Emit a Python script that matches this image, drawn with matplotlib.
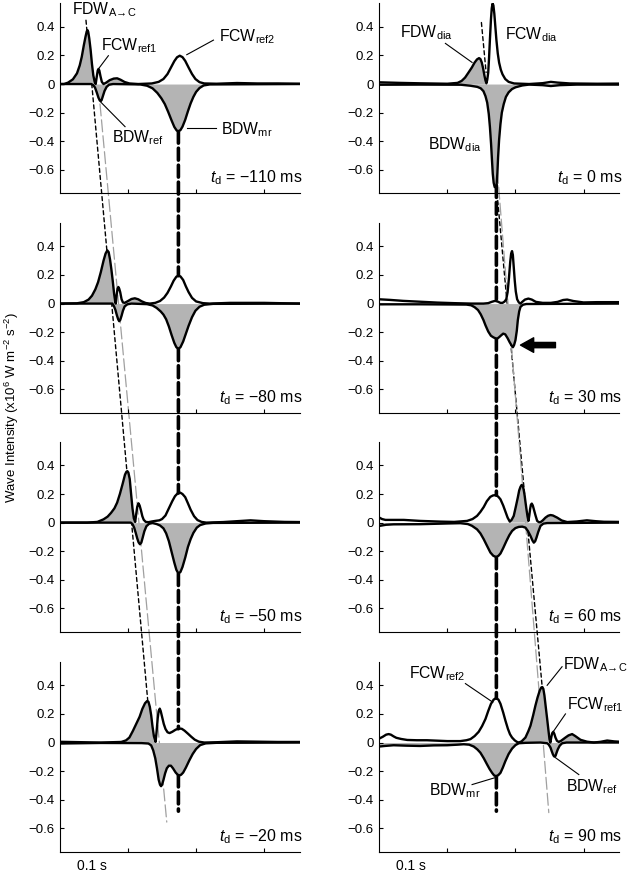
import numpy as np
import matplotlib.pyplot as plt
from matplotlib.patches import ConnectionPatch

plt.rcParams['font.family'] = ['Liberation Sans', 'DejaVu Sans']
plt.rcParams['mathtext.fontset'] = 'custom'
plt.rcParams['mathtext.rm'] = 'Liberation Sans'
plt.rcParams['mathtext.it'] = 'Liberation Sans:italic'
plt.rcParams['mathtext.bf'] = 'Liberation Sans:bold'

# delay of each panel (ms); left column first, then right column
delays = [-110, -80, -50, -20, 0, 30, 60, 90]

# wave intensity traces: (time in ms, x10^6 W m-2 s-2)
# fwd = forward waves (positive), bwd = backward waves (negative)
fwd_m110 = [(0, 0), (6, 0), (12, 0.01), (19, 0.033), (25, 0.075), (29, 0.13), (32, 0.19), (35, 0.27),
            (37.5, 0.33), (39.3, 0.368), (40.4, 0.377), (41.5, 0.365), (43, 0.32), (45, 0.24), (47, 0.14),
            (49, 0.06), (51, 0.015), (52.5, 0), (54, 0.05), (55.5, 0.095), (56.6, 0.105), (57.8, 0.095),
            (59.5, 0.055), (61.5, 0.015), (64, 0), (68, 0.01), (73, 0.027), (79, 0.038), (84, 0.04),
            (89, 0.03), (95, 0.014), (102, 0.004), (115, 0), (135, 0.004), (145, 0.015), (152, 0.035),
            (158, 0.07), (163, 0.115), (168, 0.16), (172, 0.187), (176, 0.198), (180, 0.188), (184, 0.162),
            (189, 0.115), (194, 0.07), (199, 0.035), (205, 0.013), (212, 0.004), (230, 0.002), (260, 0.007),
            (290, 0.004), (320, 0.004), (352, 0.002)]
bwd_m110 = [(0, 0), (46, 0), (49, -0.008), (51.5, -0.025), (54, -0.058), (56.5, -0.095), (58.5, -0.115),
            (59.8, -0.12), (61.2, -0.112), (63, -0.085), (65.5, -0.048), (68.5, -0.02), (72, -0.005), (78, 0),
            (118, -0.003), (128, -0.012), (136, -0.03), (143, -0.062), (149, -0.1), (154, -0.14), (159, -0.195),
            (164, -0.255), (168, -0.3), (171.5, -0.325), (174, -0.33), (177, -0.322), (180, -0.298),
            (184, -0.25), (188, -0.19), (192, -0.135), (196, -0.09), (200, -0.055), (205, -0.028),
            (211, -0.01), (220, -0.003), (352, 0)]

fwd_m80 = [(0, 0), (25, 0.002), (35, 0.01), (42, 0.028), (47, 0.055), (52, 0.1), (56, 0.15), (60, 0.22),
           (64, 0.3), (67, 0.35), (69.5, 0.372), (71.5, 0.36), (73.5, 0.31), (75.5, 0.24), (77.5, 0.16),
           (79.5, 0.07), (81, 0.02), (82, 0), (83.3, 0.06), (84.6, 0.105), (85.8, 0.116), (87, 0.105),
           (88.5, 0.08), (90.5, 0.03), (92.5, 0.008), (95, 0.005), (100, 0.018), (105, 0.032), (110, 0.037),
           (115, 0.03), (120, 0.016), (126, 0.004), (132, 0), (140, 0.005), (147, 0.018), (153, 0.042),
           (158, 0.075), (163, 0.12), (167, 0.16), (171, 0.188), (174, 0.195), (177, 0.19), (181, 0.165),
           (185, 0.12), (189, 0.08), (194, 0.04), (200, 0.015), (210, 0.003), (220, 0), (250, 0.005),
           (300, 0.005), (352, 0)]
bwd_m80 = [(0, 0), (77, 0), (79.5, -0.02), (81.5, -0.045), (83.5, -0.08), (85.5, -0.11), (87, -0.123),
           (88.5, -0.115), (90.5, -0.085), (92.5, -0.05), (95, -0.02), (99, -0.005), (105, 0), (128, -0.004),
           (136, -0.013), (142, -0.03), (148, -0.055), (152, -0.077), (156, -0.11), (160, -0.16),
           (164, -0.22), (168, -0.275), (171, -0.305), (174, -0.316), (177, -0.305), (181, -0.265),
           (185, -0.21), (189, -0.155), (194, -0.095), (199, -0.05), (205, -0.022), (212, -0.008),
           (225, -0.002), (352, 0)]

fwd_m50 = [(0, 0), (40, 0), (55, 0.005), (64, 0.023), (70, 0.042), (75, 0.068), (80, 0.1), (84, 0.14),
           (88, 0.2), (92, 0.27), (95.5, 0.335), (97.5, 0.355), (99, 0.36), (100.5, 0.35), (102.5, 0.305),
           (104.5, 0.2), (106.5, 0.1), (108.5, 0.03), (110.5, 0.005), (112, 0.06), (113.5, 0.11),
           (115.3, 0.135), (117, 0.12), (119, 0.085), (121, 0.045), (123, 0.02), (126, 0.005), (130, 0.003),
           (135, 0.008), (140, 0.012), (146, 0.016), (150, 0.025), (155, 0.05), (160, 0.1), (165, 0.15),
           (169, 0.185), (173, 0.205), (176.5, 0.21), (180, 0.2), (184, 0.178), (188, 0.135), (192, 0.09),
           (197, 0.045), (202, 0.018), (208, 0.005), (215, 0), (240, 0.004), (260, 0.01), (280, 0.016),
           (300, 0.01), (330, 0.005), (352, 0.004)]
bwd_m50 = [(0, 0), (104, 0), (106.5, -0.01), (109, -0.035), (111.5, -0.075), (113.5, -0.11), (115.5, -0.138),
           (117.5, -0.151), (119.5, -0.14), (121.5, -0.105), (124, -0.06), (127, -0.025), (131, -0.008),
           (136, -0.003), (142, -0.01), (147, -0.02), (152, -0.04), (156, -0.075), (160, -0.13),
           (164, -0.205), (168, -0.28), (171, -0.33), (174, -0.356), (177, -0.345), (180, -0.31),
           (184, -0.245), (188, -0.17), (192, -0.115), (196, -0.072), (201, -0.035), (206, -0.017),
           (214, -0.006), (225, -0.002), (352, 0)]

fwd_m20 = [(0, 0.005), (60, 0), (90, 0.004), (97, 0.015), (102, 0.035), (107, 0.08), (112, 0.13), (117, 0.18),
           (121, 0.235), (125, 0.275), (128, 0.29), (130, 0.285), (132, 0.25), (134, 0.19), (136, 0.11),
           (138, 0.045), (140.5, 0.005), (142, 0.08), (143.6, 0.17), (145, 0.22), (146.6, 0.237), (148, 0.22),
           (150, 0.18), (152.5, 0.13), (155, 0.095), (158, 0.072), (161, 0.066), (165, 0.075), (170, 0.09),
           (175, 0.098), (179, 0.096), (183, 0.083), (188, 0.062), (193, 0.04), (198, 0.02), (204, 0.006),
           (212, 0), (230, 0.002), (260, 0.008), (290, 0.006), (320, 0.004), (352, 0.004)]
bwd_m20 = [(0, -0.007), (60, -0.003), (120, -0.004), (130, -0.007), (134, -0.02), (137, -0.055), (140, -0.11),
           (142.5, -0.18), (145, -0.26), (147, -0.295), (148.5, -0.305), (150, -0.295), (152, -0.262),
           (154.5, -0.215), (157, -0.18), (160, -0.162), (163, -0.162), (166, -0.18), (170, -0.21),
           (173, -0.225), (175.5, -0.23), (178, -0.225), (181, -0.21), (185, -0.175), (190, -0.125),
           (195, -0.08), (200, -0.045), (206, -0.018), (214, -0.006), (230, -0.002), (352, 0)]

fwd_0 = [(0, 0.012), (30, 0.008), (60, 0.005), (100, 0.002), (115, 0.008), (121, 0.022), (126, 0.045),
         (131, 0.08), (136, 0.116), (140, 0.15), (143.5, 0.172), (146.5, 0.181), (148.5, 0.175), (150.5, 0.151),
         (152.5, 0.11), (154.5, 0.058), (156, 0.025), (157.4, 0.005), (158.6, 0.03), (160, 0.08), (161.2, 0.18),
         (162.5, 0.31), (164, 0.45), (165.2, 0.53), (166.4, 0.563), (167.6, 0.55), (169, 0.49), (170.5, 0.4),
         (172, 0.31), (174, 0.215), (176, 0.15), (178.5, 0.1), (181, 0.068), (185, 0.035), (190, 0.015),
         (198, 0.004), (220, 0), (240, 0.006), (252, 0.015), (262, 0.01), (280, 0.004), (320, 0.002),
         (352, 0.003)]
bwd_0 = [(0, -0.005), (60, -0.004), (120, -0.005), (134, -0.012), (144, -0.02), (149, -0.03), (153, -0.05),
         (156, -0.085), (158.5, -0.13), (160.8, -0.209), (162.5, -0.3), (164.2, -0.419), (165.5, -0.53),
         (166.7, -0.628), (168, -0.69), (169.5, -0.72), (171, -0.722), (172.3, -0.705), (173.5, -0.62),
         (174.5, -0.512), (176, -0.39), (178, -0.279), (180, -0.2), (182.8, -0.14), (186, -0.09),
         (190, -0.058), (195, -0.035), (200, -0.023), (210, -0.01), (220, -0.004), (240, -0.008),
         (252, -0.014), (265, -0.008), (290, -0.004), (352, -0.004)]

fwd_30 = [(0, 0.03), (15, 0.026), (35, 0.019), (60, 0.013), (85, 0.007), (110, 0.003), (135, 0), (153, 0),
          (160, 0.003), (165, 0.012), (170, 0.019), (174, 0.014), (178, 0.005), (181, 0.005), (184, 0.014),
          (186.5, 0.03), (188.5, 0.08), (190.5, 0.18), (192.3, 0.29), (193.7, 0.35), (195, 0.367),
          (196.2, 0.34), (197.5, 0.256), (199, 0.16), (200.5, 0.085), (202.5, 0.03), (205, 0.008),
          (207.4, 0), (210, 0.012), (214, 0.028), (219, 0.035), (224, 0.028), (230, 0.012), (240, 0.005),
          (252, 0.005), (262, 0.012), (270, 0.025), (276, 0.028), (285, 0.018), (300, 0.008), (320, 0.01),
          (352, 0.01)]
bwd_30 = [(0, -0.005), (60, -0.005), (128, -0.007), (135, -0.012), (140, -0.025), (145, -0.045), (149, -0.075),
          (153, -0.115), (156, -0.152), (160, -0.195), (164, -0.225), (168, -0.237), (171, -0.243),
          (173.5, -0.244), (176, -0.235), (179, -0.222), (182, -0.21), (185, -0.215), (188.5, -0.242),
          (191.5, -0.27), (194, -0.29), (196.3, -0.305), (198, -0.29), (200, -0.256), (202, -0.19),
          (203.5, -0.116), (205.5, -0.055), (207.4, -0.023), (211, -0.008), (216, -0.003), (352, 0)]

fwd_60 = [(0, 0.035), (4, 0.025), (9, 0.019), (20, 0.019), (36, 0.019), (60, 0.012), (90, 0.007), (110, 0.005),
          (129, 0.012), (137, 0.025), (143.6, 0.047), (148.5, 0.075), (153.4, 0.109), (158, 0.15), (163, 0.18),
          (167, 0.19), (171.6, 0.193), (175, 0.18), (178, 0.163), (182, 0.12), (185.3, 0.077), (188.5, 0.035),
          (191.7, 0.007), (194.5, 0.02), (197.5, 0.047), (200.5, 0.11), (203.4, 0.174), (205.5, 0.225),
          (207.4, 0.25), (209, 0.263), (210.8, 0.258), (212.3, 0.225), (213.5, 0.19), (215, 0.135),
          (216.2, 0.093), (217.7, 0.045), (219.1, 0.012), (220.4, 0.05), (221.5, 0.093), (222.7, 0.125),
          (224, 0.133), (225.5, 0.12), (227.5, 0.085), (229.5, 0.05), (231.9, 0.012), (234.5, 0.003),
          (236.8, 0.003), (240, 0.015), (244.1, 0.035), (248, 0.048), (251.5, 0.053), (255, 0.05),
          (261.3, 0.035), (268, 0.015), (276, 0.004), (290, 0.008), (305, 0.016), (318, 0.01), (330, 0.006),
          (352, 0.005)]
bwd_60 = [(0, -0.023), (10, -0.015), (21, -0.012), (60, -0.011), (100, -0.006), (119, -0.004), (130, -0.01),
          (136, -0.022), (143.6, -0.047), (148.5, -0.075), (153.4, -0.116), (158, -0.16), (163.2, -0.209),
          (167.5, -0.232), (171.6, -0.24), (175, -0.232), (178, -0.216), (182, -0.178), (186.8, -0.128),
          (191, -0.088), (195.1, -0.058), (200, -0.038), (204.9, -0.03), (210, -0.028), (214.7, -0.035),
          (218.5, -0.06), (222.1, -0.093), (225, -0.125), (227, -0.14), (229, -0.13), (230.9, -0.105),
          (233.5, -0.065), (236.8, -0.023), (241, -0.007), (246.6, -0.003), (352, 0)]

fwd_90 = [(0, 0.028), (5, 0.04), (10, 0.055), (13.7, 0.059), (17, 0.055), (21, 0.043), (25, 0.033), (32, 0.025),
          (41, 0.018), (55, 0.016), (70, 0.016), (85, 0.013), (100, 0.01), (119, 0.01), (128, 0.016),
          (134, 0.024), (140, 0.045), (146, 0.075), (151, 0.115), (156, 0.165), (160, 0.22), (164, 0.27),
          (168, 0.3), (171.6, 0.311), (175, 0.3), (178, 0.271), (182, 0.21), (185.3, 0.153), (189, 0.095),
          (192, 0.058), (195, 0.035), (199, 0.015), (202, 0.005), (205, 0), (209, 0.008), (214.7, 0.035),
          (219, 0.08), (222.1, 0.118), (226, 0.19), (229.4, 0.259), (232.5, 0.315), (235.8, 0.365),
          (238, 0.385), (239.5, 0.388), (241, 0.375), (242.6, 0.329), (244.5, 0.25), (246.6, 0.165),
          (248.5, 0.085), (250, 0.024), (251.3, 0), (252.6, 0.035), (254, 0.065), (255.6, 0.075),
          (257.2, 0.06), (258.8, 0.035), (261, 0.012), (263.7, 0.004), (267, 0.012), (273.5, 0.035),
          (278, 0.05), (283.3, 0.059), (288, 0.045), (295.6, 0.019), (305, 0.006), (315.2, 0), (325, 0.005),
          (334.8, 0.014), (345, 0.008), (352, 0.006)]
bwd_90 = [(0, -0.028), (8, -0.024), (21, -0.019), (40, -0.022), (60, -0.024), (80, -0.02), (99.5, -0.019),
          (115, -0.015), (124, -0.012), (132, -0.015), (138.7, -0.028), (144, -0.048), (148.5, -0.071),
          (153.5, -0.11), (158.3, -0.153), (162, -0.185), (165.7, -0.212), (168.7, -0.23), (171.6, -0.235),
          (174.8, -0.228), (178, -0.212), (181.5, -0.175), (185.3, -0.129), (190, -0.08), (195.1, -0.042),
          (200, -0.018), (204.9, -0.005), (215, -0.002), (236.8, 0), (246.6, -0.005), (249, -0.015),
          (251.5, -0.035), (253.3, -0.06), (255, -0.082), (256.6, -0.096), (257.8, -0.099), (259, -0.092),
          (260.5, -0.07), (262.3, -0.047), (265, -0.022), (268.6, -0.005), (275, 0), (352, 0)]

# time spans (ms) of the shaded forward decompression waves
shade_m110 = [(0, 52.5), (64, 115)]
shade_m80 = [(0, 82), (95, 132)]
shade_m50 = [(0, 110.5)]
shade_m20 = [(0, 140.5)]
shade_0 = [(115, 157.4)]
shade_30 = []
shade_60 = [(191.7, 219.1), (236.8, 276)]
shade_90 = [(205, 251.3), (263.7, 315.2)]

fwd_all = [fwd_m110, fwd_m80, fwd_m50, fwd_m20, fwd_0, fwd_30, fwd_60, fwd_90]
bwd_all = [bwd_m110, bwd_m80, bwd_m50, bwd_m20, bwd_0, bwd_30, bwd_60, bwd_90]
shade_all = [shade_m110, shade_m80, shade_m50, shade_m20, shade_0, shade_30, shade_60, shade_90]

# time of the BDWmr / FCWref2 pair, left and right column (ms)
t_mr = [174, 172]

y_ticks = [-0.6, -0.4, -0.2, 0, 0.2, 0.4]
y_tick_labels = ['\u22120.6', '\u22120.4', '\u22120.2', '0', '0.2', '0.4']
x_ticks = [100, 200, 300]

fig = plt.figure(figsize=(6.28, 8.73), dpi=100)
col_x = [0.0955, 0.604]
row_b = [0.7784, 0.5269, 0.276, 0.0241]
ax_w, ax_h = 0.3815, 0.2176

axes = []
for i in range(8):
    ax = fig.add_axes([col_x[i // 4], row_b[i % 4], ax_w, ax_h])
    ax.set_facecolor('none')
    t = np.array([p[0] for p in fwd_all[i]])
    f = np.array([p[1] for p in fwd_all[i]])
    tb = np.array([p[0] for p in bwd_all[i]])
    b = np.array([p[1] for p in bwd_all[i]])
    mask = np.zeros(len(t), dtype=bool)
    for a, e in shade_all[i]:
        mask |= (t >= a) & (t <= e)
    if mask.any():
        ax.fill_between(t, 0, f, where=mask, color='#b4b4b4', lw=0, zorder=1)
    ax.fill_between(tb, 0, b, color='#b4b4b4', lw=0, zorder=1)
    ax.plot(t, f, color='black', lw=1.7, zorder=3, solid_joinstyle='round')
    ax.plot(tb, b, color='black', lw=1.7, zorder=3, solid_joinstyle='round')
    ax.set_xlim(0, 352)
    ax.set_ylim(-0.765, 0.563)
    for s in ['top', 'right']:
        ax.spines[s].set_visible(False)
    for s in ['left', 'bottom']:
        ax.spines[s].set_linewidth(0.8)
    ax.set_xticks(x_ticks)
    ax.set_xticklabels([])
    ax.set_yticks(y_ticks)
    ax.set_yticklabels(y_tick_labels)
    ax.tick_params(direction='in', length=3, width=0.8, labelsize=9.5, pad=4)
    ax.text(357, -0.69, r'$\mathit{t}_{\mathrm{d}}$ = ' + str(delays[i]).replace('-', '\u2212') + ' ms',
            ha='right', va='baseline', fontsize=11.5)
    if i % 4 == 3:
        ax.text(47, -0.86, '0.1 s', ha='center', va='center', fontsize=10)
    axes.append(ax)

AC = r'$_{\mathrm{A\!\rightarrow\!C}}$'
# labels with leader lines: (panel, text, text position, leader start, leader end)
labels = [
    (0, 'FDW' + AC, (17.2, 0.488), None, None),
    (0, r'FCW$_{\mathrm{ref1}}$', (59.8, 0.233), (71.1, 0.198), (56.4, 0.105)),
    (0, r'FCW$_{\mathrm{ref2}}$', (233.8, 0.302), (225.5, 0.307), (186.3, 0.205)),
    (0, r'BDW$_{\mathrm{ref}}$', (77, -0.407), (95.6, -0.298), (60.3, -0.128)),
    (0, r'BDW$_{\mathrm{mr}}$', (236.3, -0.349), (229.4, -0.309), (186.3, -0.309)),
    (4, r'FDW$_{\mathrm{dia}}$', (30.9, 0.326), (97.1, 0.284), (136.3, 0.151)),
    (4, r'FCW$_{\mathrm{dia}}$', (185.3, 0.314), None, None),
    (4, r'BDW$_{\mathrm{dia}}$', (71.1, -0.453), None, None),
    (7, r'FCW$_{\mathrm{ref2}}$', (44.1, 0.447), (126.5, 0.412), (166.7, 0.282)),
    (7, 'FDW' + AC, (270.5, 0.513), (268.5, 0.53), (246.6, 0.4)),
    (7, r'FCW$_{\mathrm{ref1}}$', (276, 0.235), (273.5, 0.2), (256.4, 0.082)),
    (7, r'BDW$_{\mathrm{ref}}$', (274.5, -0.341), (293.1, -0.224), (258.8, -0.106)),
    (7, r'BDW$_{\mathrm{mr}}$', (72.5, -0.372), (136.3, -0.294), (169.1, -0.247)),
]
for k, txt, pos, p0, p1 in labels:
    axes[k].text(pos[0], pos[1], txt, ha='left', va='baseline', fontsize=11.3, zorder=4)
    if p0 is not None:
        axes[k].plot([p0[0], p1[0]], [p0[1], p1[1]], color='black', lw=0.8, zorder=4, clip_on=False)

# arrow at the 30 ms panel
axes[5].annotate('', xy=(207.4, -0.29), xytext=(258.8, -0.29),
                 arrowprops=dict(facecolor='black', edgecolor='black', width=3.8,
                                 headwidth=10.5, headlength=9.5, shrink=0))


def guide(ka, pa, kb, pb, **kw):
    con = ConnectionPatch(xyA=pa, coordsA='data', axesA=axes[ka],
                          xyB=pb, coordsB='data', axesB=axes[kb],
                          arrowstyle='-', shrinkA=0, shrinkB=0, **kw)
    con.set_zorder(-1)
    fig.add_artist(con)


def val(k, series, tt):
    arr = np.array(series[k])
    return float(np.interp(tt, arr[:, 0], arr[:, 1]))


thick = dict(color='black', lw=2.6, linestyle=(0, (3.3, 1.4)))
fine = dict(color='black', lw=1.0, linestyle=(0, (2.9, 2.2)))
grey = dict(color='#a0a0a0', lw=0.9, linestyle=(0, (9.6, 3.2)))

# vertical BDWmr / FCWref2 guides
for c in range(2):
    tt = t_mr[c]
    for r in range(3):
        k = 4 * c + r
        guide(k, (tt, val(k, bwd_all, tt)), k + 1, (tt, val(k + 1, fwd_all, tt)), **thick)
    k = 4 * c + 3
    guide(k, (tt, val(k, bwd_all, tt)), k, (tt, -0.48), **thick)

# slanted guides of FDW(A->C) and BDW(ref)
guide(0, (38.2, 0.446), 3, (129, 0.29), **fine)
guide(0, (58.8, -0.139), 3, (156.9, -0.556), **grey)
guide(4, (150, 0.43), 4, (156.9, 0.081), **fine)
guide(4, (173, -0.765), 7, (239.3, 0.388), **fine)
guide(4, (173.5, -0.61), 7, (249, -0.49), **grey)

fig.text(0.019, 0.533, r'Wave Intensity (x10$^{6}$ W m$^{-2}$ s$^{-2}$)', rotation=90,
         ha='center', va='center', fontsize=9.5)

fig.savefig('out.png', dpi=100)
